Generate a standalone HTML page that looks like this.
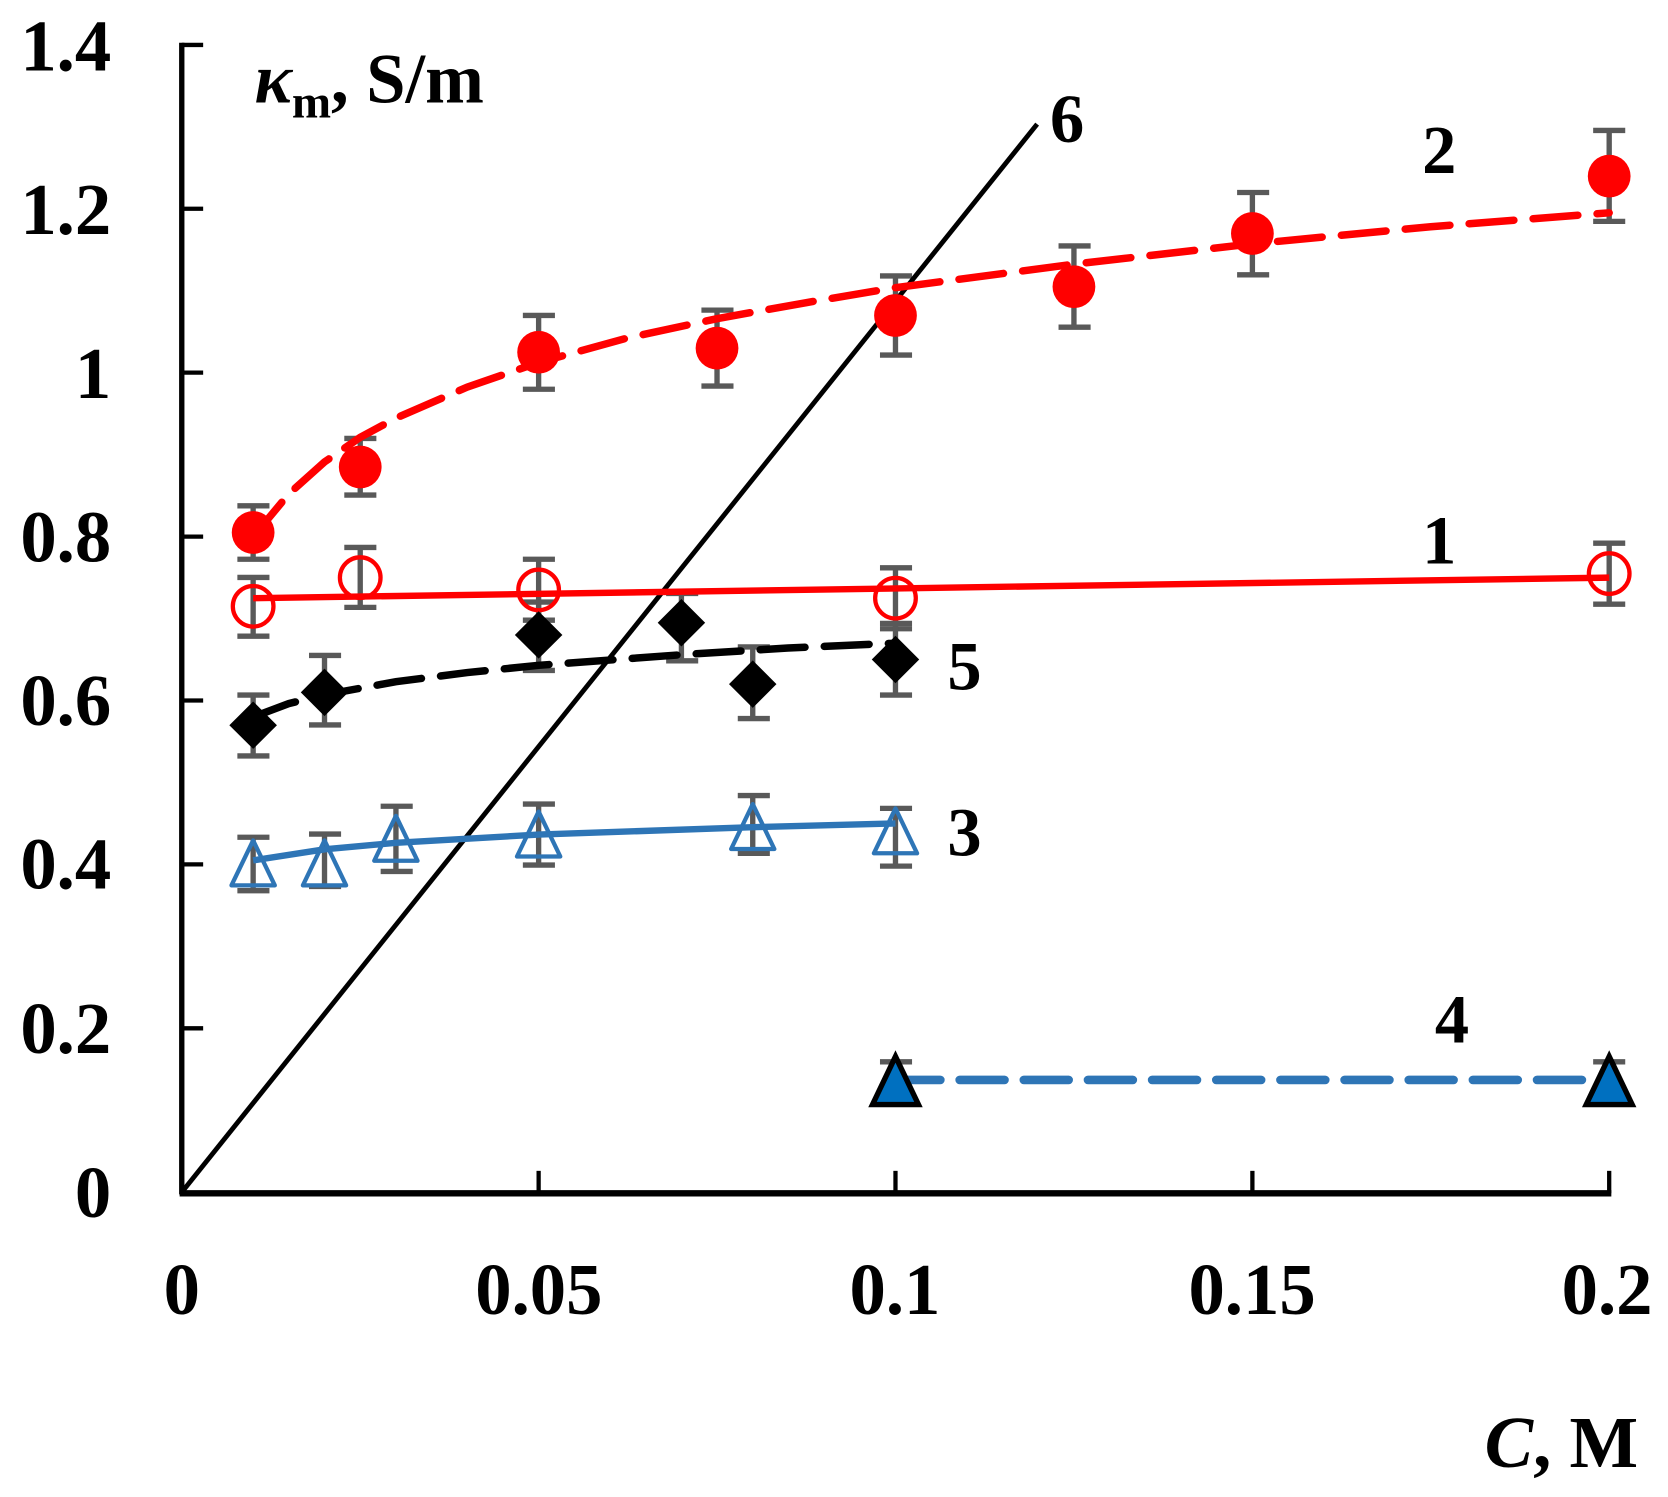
<!DOCTYPE html>
<html><head><meta charset="utf-8"><style>html,body{margin:0;padding:0;background:#fff}svg{display:block}</style></head>
<body>
<svg width="1668" height="1497" viewBox="0 0 1560 1400" xmlns="http://www.w3.org/2000/svg" font-family="Liberation Serif, serif" font-weight="bold">
<!-- axes -->
<line x1="170" y1="40" x2="170" y2="1117" stroke="#000" stroke-width="5"/>
<line x1="168" y1="1116" x2="1507" y2="1116" stroke="#000" stroke-width="6"/>
<g stroke="#000" stroke-width="4">
<line x1="170" y1="42" x2="190" y2="42"/><line x1="170" y1="195.2" x2="190" y2="195.2"/><line x1="170" y1="348.5" x2="190" y2="348.5"/><line x1="170" y1="501.8" x2="190" y2="501.8"/><line x1="170" y1="655.1" x2="190" y2="655.1"/><line x1="170" y1="808.4" x2="190" y2="808.4"/><line x1="170" y1="961.7" x2="190" y2="961.7"/>
<line x1="503.75" y1="1116" x2="503.75" y2="1095"/><line x1="837.5" y1="1116" x2="837.5" y2="1095"/><line x1="1171.3" y1="1116" x2="1171.3" y2="1095"/><line x1="1505" y1="1116" x2="1505" y2="1095"/>
</g>
<g font-size="68" text-anchor="end">
<text x="104" y="66">1.4</text><text x="104" y="219">1.2</text><text x="104" y="372">1</text><text x="104" y="525">0.8</text><text x="104" y="678">0.6</text><text x="104" y="831">0.4</text><text x="104" y="985">0.2</text><text x="104" y="1138">0</text>
</g>
<g font-size="68" text-anchor="middle">
<text x="170" y="1229">0</text><text x="504" y="1229">0.05</text><text x="837" y="1229">0.1</text><text x="1171" y="1229">0.15</text><text x="1503" y="1229">0.2</text>
</g>
<text x="238" y="96" font-size="66"><tspan font-style="italic">κ</tspan><tspan font-size="44" dy="14">m</tspan><tspan dy="-14">, S/m</tspan></text>
<text x="1532" y="1372" font-size="68" text-anchor="end"><tspan font-style="italic">C</tspan>, M</text>
<g font-size="64">
<text x="982" y="133">6</text><text x="1330" y="162">2</text><text x="1330" y="527">1</text><text x="886" y="645">5</text><text x="886" y="800">3</text><text x="1342" y="975">4</text>
</g>
<!-- error bars -->
<g stroke="#595959" stroke-width="5">
<path d="M236.75 473V523M222 473H252M222 523H252 M336.9 410V463M322 410H352M322 463H352 M503.75 295V364M489 295H519M489 364H519 M670.6 290V361M656 290H686M656 361H686 M837.5 258V332M823 258H853M823 332H853 M1004.4 230V306M990 230H1020M990 306H1020 M1171.3 180V257M1157 180H1187M1157 257H1187 M1505 122V207M1490 122H1520M1490 207H1520"/>
<path d="M236.75 540V595M222 540H252M222 595H252 M336.9 512V568M322 512H352M322 568H352 M503.75 523V580M489 523H519M489 580H519 M837.5 531V588M823 531H853M823 588H853 M1505 508V565M1490 508H1520M1490 565H1520"/>
<path d="M236.75 650V707M222 650H252M222 707H252 M303.5 613V678M289 613H319M289 678H319 M503.75 563V627M489 563H519M489 627H519 M637.3 555V618M623 555H653M623 618H653 M704 605V672M690 605H720M690 672H720 M837.5 583V650M823 583H853M823 650H853"/>
<path d="M236.75 783V833M222 783H252M222 833H252 M303.5 780V829M289 780H319M289 829H319 M370.3 754V815M356 754H386M356 815H386 M503.75 752V809M489 752H519M489 809H519 M704 744V798M690 744H720M690 798H720 M837.5 756V810M823 756H853M823 810H853"/>
<path d="M837.5 993V1030M823 993H853 M1505 993V1030M1490 993H1520"/>
</g>
<!-- line 6 -->
<line x1="170" y1="1115" x2="970" y2="116" stroke="#000" stroke-width="4.5"/>
<!-- series 2 -->
<polyline points="236.75,502 270,462 303.5,432 336.9,409 370.3,391 437,362 503.75,339 587,316 670.6,298 754,283 837.5,269 1004.4,247 1171.3,228 1338,212 1505,199" fill="none" stroke="#f00" stroke-width="7" stroke-dasharray="42,18" stroke-linecap="round"/>
<g fill="#f00">
<circle cx="236.75" cy="498" r="20"/><circle cx="336.9" cy="436.7" r="20"/><circle cx="503.75" cy="329.4" r="20"/><circle cx="670.6" cy="325.6" r="20"/><circle cx="837.5" cy="295" r="20"/><circle cx="1004.4" cy="268.1" r="20"/><circle cx="1171.3" cy="218.3" r="20"/><circle cx="1505" cy="164.7" r="20"/>
</g>
<!-- series 1 -->
<line x1="236.75" y1="559.4" x2="1505" y2="540.2" stroke="#f00" stroke-width="6"/>
<g fill="none" stroke="#f00" stroke-width="4">
<circle cx="236.75" cy="567" r="19"/><circle cx="336.9" cy="540.2" r="19"/><circle cx="503.75" cy="551.7" r="19"/><circle cx="837.5" cy="559.4" r="19"/><circle cx="1505" cy="536.4" r="19"/>
</g>
<!-- series 5 -->
<polyline points="236.75,670.5 270,658 303.5,649.8 370.3,637.5 437,629 503.75,622.2 637.3,612.3 737,606 837.5,601.5" fill="none" stroke="#000" stroke-width="7" stroke-dasharray="42,18" stroke-linecap="round"/>
<g fill="#000">
<path d="M236.75 656L259 678.2 236.75 700.4 214.5 678.2Z"/><path d="M303.5 625.3L325.7 647.5 303.5 669.7 281.3 647.5Z"/><path d="M503.75 571.6L526 593.8 503.75 616 481.5 593.8Z"/><path d="M637.3 560.2L659.5 582.4 637.3 604.6 615.1 582.4Z"/><path d="M704 617.6L726.2 639.8 704 662 681.8 639.8Z"/><path d="M837.5 594.6L859.7 616.8 837.5 639 815.3 616.8Z"/>
</g>
<!-- series 3 -->
<polyline points="236.75,804.6 303.5,794.3 370.3,788.2 503.75,780.5 704,773.6 837.5,770.1" fill="none" stroke="#2e75b6" stroke-width="6"/>
<g fill="none" stroke="#2e75b6" stroke-width="4" stroke-linejoin="round">
<path d="M236.75 786L257 828 216.5 828Z"/><path d="M303.5 786L323.7 828 283.3 828Z"/><path d="M370.3 763L390.5 805 350 805Z"/><path d="M503.75 759L524 801 483.5 801Z"/><path d="M704 752L724.2 794 683.8 794Z"/><path d="M837.5 756L857.7 798 817.3 798Z"/>
</g>
<!-- series 4 -->
<line x1="837.5" y1="1010" x2="1505" y2="1010" stroke="#2e75b6" stroke-width="8" stroke-dasharray="42,18" stroke-linecap="round"/>
<g fill="#0070c0" stroke="#000" stroke-width="5" stroke-linejoin="miter">
<path d="M837.5 988L859 1033 816 1033Z"/><path d="M1505 988L1526.5 1033 1483.5 1033Z"/>
</g>
</svg>
</body></html>
